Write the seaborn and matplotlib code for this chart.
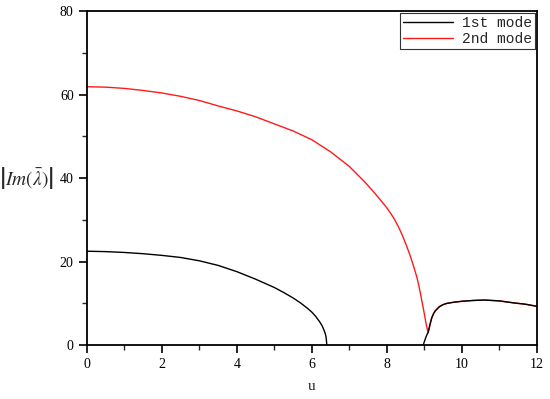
import matplotlib
matplotlib.use('Agg')
import matplotlib.pyplot as plt
from matplotlib.ticker import MultipleLocator
import pandas as pd
import seaborn as sns

# 1st mode, first branch (u from 0 to 6.4)
u1a = [0, 0.5, 1, 1.5, 2, 2.5, 3, 3.5, 4, 4.5, 5, 5.25, 5.5, 5.7, 5.9, 6.0, 6.1, 6.2, 6.27, 6.32,
       6.36, 6.38, 6.4]
im1a = [22.5, 22.4, 22.2, 21.9, 21.5, 21.0, 20.2, 19.1, 17.6, 15.8, 13.8, 12.6, 11.3, 10.1, 8.7, 7.9,
        6.9, 5.7, 4.7, 3.7, 2.7, 1.9, 0.0]

# 1st mode, second branch (starts at 8.97, joins the 2nd mode)
u1b = [8.97, 9.0, 9.03, 9.06, 9.08, 9.1, 9.12, 9.15, 9.2, 9.25, 9.3, 9.4, 9.5, 9.6, 9.8, 10.0, 10.3,
       10.6, 11.0, 11.4, 11.7, 12.0]
im1b = [0.0, 0.8, 1.6, 2.3, 2.7, 3.0, 3.7, 4.9, 6.6, 7.6, 8.3, 9.2, 9.7, 10.0, 10.3, 10.5, 10.7,
        10.8, 10.6, 10.1, 9.8, 9.3]

# 2nd mode
u2 = [0, 0.5, 1, 1.5, 2, 2.5, 3, 3.5, 4, 4.5, 5, 5.5, 6, 6.5, 7, 7.4, 7.6, 7.8, 8.0, 8.1, 8.2, 8.3,
      8.4, 8.5, 8.6, 8.7, 8.8, 8.85, 8.9, 8.95, 9.0, 9.05, 9.1, 9.12, 9.15, 9.2, 9.25, 9.3, 9.4, 9.5,
      9.6, 9.8, 10.0, 10.3, 10.6, 11.0, 11.4, 11.7, 12.0]
im2 = [61.9, 61.8, 61.5, 61.0, 60.4, 59.6, 58.6, 57.3, 56.1, 54.7, 53.0, 51.3, 49.2, 46.3, 42.8, 39.2,
       37.2, 35.1, 32.9, 31.6, 30.2, 28.5, 26.6, 24.4, 22.0, 19.3, 16.3, 14.4, 12.2, 9.9, 7.5, 5.0,
       3.0, 3.7, 4.9, 6.6, 7.6, 8.3, 9.2, 9.7, 10.0, 10.3, 10.5, 10.7, 10.8, 10.6, 10.1, 9.8, 9.3]

df = pd.concat([
    pd.DataFrame({'u': u2, 'im': im2, 'mode': '2nd mode', 'branch': 'c'}),
    pd.DataFrame({'u': u1a, 'im': im1a, 'mode': '1st mode', 'branch': 'a'}),
    pd.DataFrame({'u': u1b, 'im': im1b, 'mode': '1st mode', 'branch': 'b'}),
])

sns.set_style('ticks')
plt.rcParams['font.family'] = ['Liberation Serif', 'DejaVu Serif']
plt.rcParams['mathtext.fontset'] = 'stix'

fig = plt.figure(figsize=(5.5, 3.99), dpi=100)
ax = fig.add_axes([0.158, 0.135, 0.818, 0.837])

sns.lineplot(data=df, x='u', y='im', hue='mode', units='branch', estimator=None, sort=False,
             hue_order=['2nd mode', '1st mode'],
             palette={'1st mode': 'black', '2nd mode': '#ff1a1a'},
             linewidth=1.0, ax=ax)

ax.set_xlim(0, 12)
ax.set_ylim(0, 80)
ax.xaxis.set_major_locator(MultipleLocator(2))
ax.xaxis.set_minor_locator(MultipleLocator(1))
ax.yaxis.set_major_locator(MultipleLocator(20))
ax.yaxis.set_minor_locator(MultipleLocator(10))
ax.tick_params(which='major', direction='out', length=6, width=1.2, labelsize=10, colors='black')
ax.tick_params(which='minor', direction='out', length=3.5, width=1.0)
for s in ax.spines.values():
    s.set_linewidth(1.3)
    s.set_color('black')

ax.set_xlabel('u', fontsize=11, labelpad=6)
ax.set_ylabel(r'$\left|Im\left(\bar{\lambda}\right)\right|$', fontsize=14, rotation=0,
              va='center', ha='center')
ax.yaxis.set_label_coords(-0.135, 0.5)

handles, labels = ax.get_legend_handles_labels()
order = [labels.index('1st mode'), labels.index('2nd mode')]
leg = ax.legend([handles[i] for i in order], [labels[i] for i in order],
                loc='upper right', fancybox=False, framealpha=1, edgecolor='#333333',
                handlelength=3.4, handletextpad=0.6, borderpad=0.2, borderaxespad=0.15,
                labelspacing=0.15, prop={'family': 'Liberation Mono', 'size': 10.5})
leg.get_frame().set_linewidth(0.8)

fig.savefig('out.png', dpi=100)
plt.close()
